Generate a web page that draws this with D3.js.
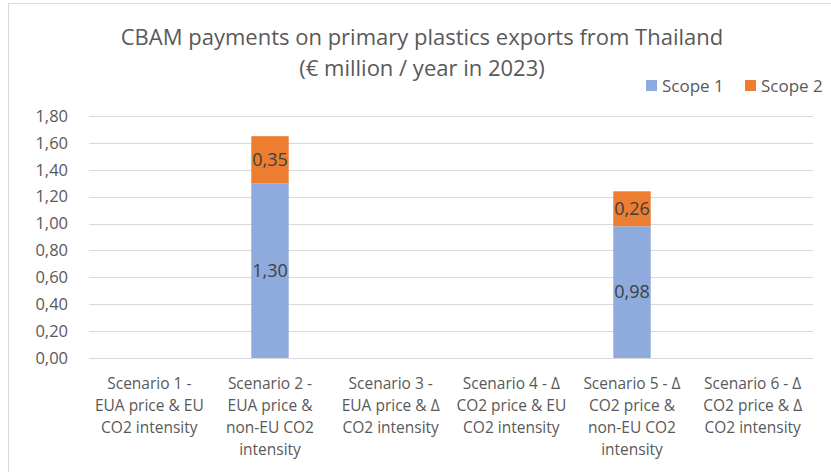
<!DOCTYPE html>
<html>
<head>
<meta charset="utf-8">
<script src="https://cdn.jsdelivr.net/npm/d3@7"></script>
<style>
  body { margin: 0; background: #fff; }
  text { font-family: "Open Sans", sans-serif; }
</style>
</head>
<body>
<div id="chart"></div>
<script>
// --data--
const scenarios = ["s1", "s2", "s3", "s4", "s5", "s6"];
const scenarioLabels = [
  ["Scenario 1 -", "EUA price & EU", "CO2 intensity"],
  ["Scenario 2 -", "EUA price &", "non-EU CO2", "intensity"],
  ["Scenario 3 -", "EUA price & \u0394", "CO2 intensity"],
  ["Scenario 4 - \u0394", "CO2 price & EU", "CO2 intensity"],
  ["Scenario 5 - \u0394", "CO2 price &", "non-EU CO2", "intensity"],
  ["Scenario 6 - \u0394", "CO2 price & \u0394", "CO2 intensity"]
];
const scope1 = [0, 1.30, 0, 0, 0.98, 0];
const scope2 = [0, 0.35, 0, 0, 0.26, 0];
const yTicks = [0, 0.2, 0.4, 0.6, 0.8, 1.0, 1.2, 1.4, 1.6, 1.8];
const seriesNames = ["Scope 1", "Scope 2"];
const titleLines = ["CBAM payments on primary plastics exports from Thailand", "(\u20ac million / year in 2023)"];

const colors = { "Scope 1": "#8faadc", "Scope 2": "#ed7d31" };
const fmt = v => d3.format(".2f")(v).replace(".", ",");

const svg = d3.select("#chart").append("svg")
  .attr("width", 831)
  .attr("height", 472);

// chart frame
svg.append("rect")
  .attr("x", 8.5).attr("y", 3.5)
  .attr("width", 840).attr("height", 480)
  .attr("fill", "#fff")
  .attr("stroke", "#d9d9d9");

const x = d3.scaleBand().domain(scenarios).range([89, 813]);
const y = d3.scaleLinear().domain([0, 1.8]).range([358, 116]);

// gridlines
svg.append("g")
  .selectAll("line")
  .data(yTicks)
  .join("line")
  .attr("x1", 89).attr("x2", 813)
  .attr("y1", d => Math.round(y(d)) + 0.5)
  .attr("y2", d => Math.round(y(d)) + 0.5)
  .attr("stroke", "#d9d9d9")
  .attr("stroke-width", 1);

// y tick labels
svg.append("g")
  .selectAll("text")
  .data(yTicks)
  .join("text")
  .attr("x", 68)
  .attr("y", d => y(d))
  .attr("dy", "0.35em")
  .attr("text-anchor", "end")
  .attr("font-size", 16.5)
  .attr("fill", "#595959")
  .text(d => fmt(d));

// stacked bars
const rows = scenarios.map((s, i) => ({ key: s, "Scope 1": scope1[i], "Scope 2": scope2[i] }));
const stacked = d3.stack().keys(seriesNames)(rows);
const barW = x.bandwidth() * 0.31;

const layers = svg.append("g")
  .selectAll("g")
  .data(stacked)
  .join("g")
  .attr("fill", d => colors[d.key]);

layers.selectAll("rect")
  .data(d => d.filter(p => p[1] - p[0] > 0))
  .join("rect")
  .attr("x", p => x(p.data.key) + x.bandwidth() / 2 - barW / 2)
  .attr("width", barW)
  .attr("y", p => y(p[1]))
  .attr("height", p => y(p[0]) - y(p[1]));

layers.selectAll("text")
  .data(d => d.filter(p => p[1] - p[0] > 0))
  .join("text")
  .attr("x", p => x(p.data.key) + x.bandwidth() / 2)
  .attr("y", p => (y(p[0]) + y(p[1])) / 2)
  .attr("dy", "0.35em")
  .attr("text-anchor", "middle")
  .attr("font-size", 18)
  .attr("fill", "#404040")
  .text(p => fmt(p[1] - p[0]));

// x labels
const xl = svg.append("g")
  .selectAll("text")
  .data(scenarios)
  .join("text")
  .attr("text-anchor", "middle")
  .attr("font-size", 15.5)
  .attr("fill", "#595959");

xl.selectAll("tspan")
  .data((d, i) => scenarioLabels[i].map(t => ({ t, key: d })))
  .join("tspan")
  .attr("x", d => x(d.key) + x.bandwidth() / 2)
  .attr("y", (d, j) => 389 + j * 22)
  .text(d => d.t);

// title
svg.append("g")
  .selectAll("text")
  .data(titleLines)
  .join("text")
  .attr("x", 422)
  .attr("y", (d, i) => 45 + i * 31)
  .attr("text-anchor", "middle")
  .attr("font-size", 22)
  .attr("fill", "#595959")
  .text(d => d);

// legend
const legendX = [646, 745];
const lg = svg.append("g")
  .selectAll("g")
  .data(seriesNames)
  .join("g")
  .attr("transform", (d, i) => `translate(${legendX[i]},80)`);

lg.append("rect")
  .attr("width", 11).attr("height", 11)
  .attr("fill", d => colors[d]);

lg.append("text")
  .attr("x", 16)
  .attr("y", 6)
  .attr("dy", "0.35em")
  .attr("font-size", 17)
  .attr("fill", "#595959")
  .text(d => d);
</script>
</body>
</html>
